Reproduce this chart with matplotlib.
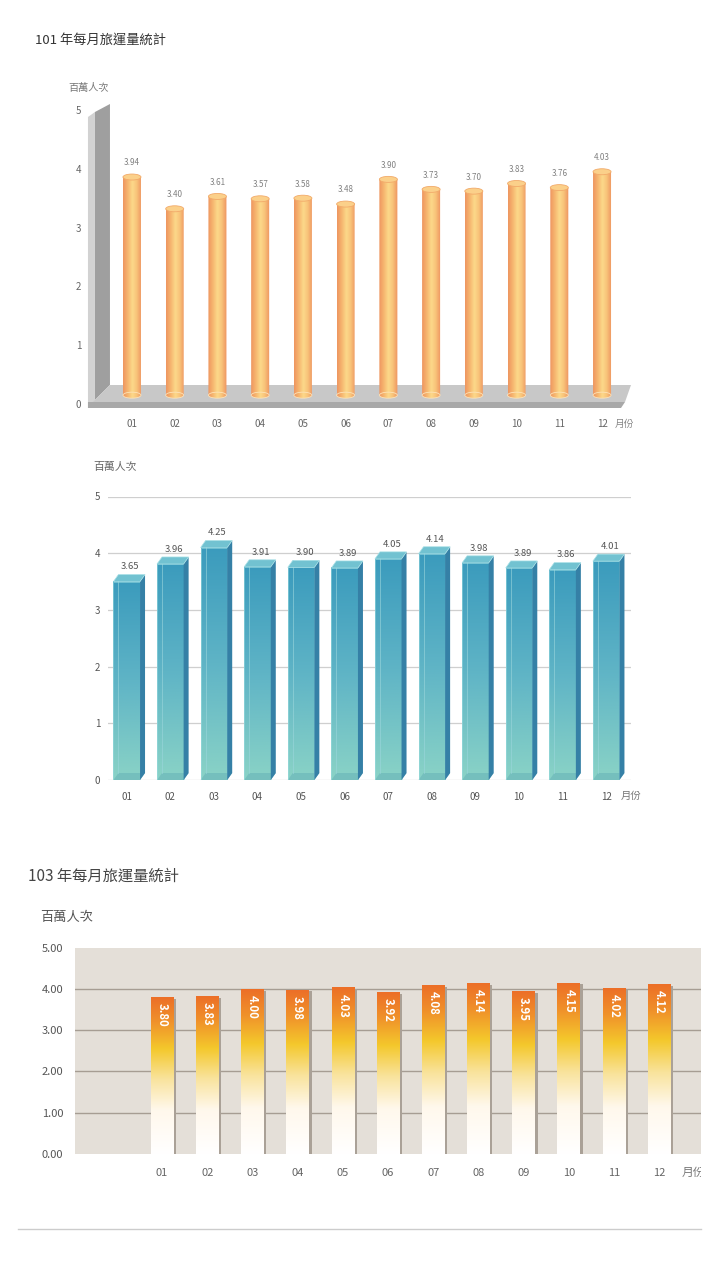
"""Monthly passenger volume charts for years 101, 102, 103 (three styles stacked)."""
import numpy as np
import matplotlib
matplotlib.use("Agg")
import matplotlib.pyplot as plt
from matplotlib.patches import Polygon, Rectangle, Ellipse
from matplotlib.colors import LinearSegmentedColormap
from matplotlib.lines import Line2D
from matplotlib.transforms import Bbox, TransformedBbox

plt.rcParams["font.family"] = ["Noto Sans CJK TC", "DejaVu Sans"]

W, H = 719, 1280

months = ["01", "02", "03", "04", "05", "06", "07", "08", "09", "10", "11", "12"]
yticks = [0, 1, 2, 3, 4, 5]
y101 = [3.94, 3.40, 3.61, 3.57, 3.58, 3.48, 3.90, 3.73, 3.70, 3.83, 3.76, 4.03]
y102 = [3.65, 3.96, 4.25, 3.91, 3.90, 3.89, 4.05, 4.14, 3.98, 3.89, 3.86, 4.01]
y103 = [3.80, 3.83, 4.00, 3.98, 4.03, 3.92, 4.08, 4.14, 3.95, 4.15, 4.02, 4.12]
title101 = "101 年每月旅運量統計"
title103 = "103 年每月旅運量統計"
unit_y = "百萬人次"
unit_x = "月份"

cyl_cmap = LinearSegmentedColormap.from_list(
    "cyl", [(0, "#ee9460"), (0.25, "#f6b56f"), (0.5, "#fcd98a"), (0.72, "#f8c47a"), (1, "#ee925f")])
box_cmap = LinearSegmentedColormap.from_list("box", ["#3b9bbd", "#5fb4c6", "#8ad3c6"])
bar_cmap = LinearSegmentedColormap.from_list(
    "bar3", [(0, "#ec6f27"), (0.16, "#f0922a"), (0.33, "#f4c82c"), (0.52, "#f9e39c"),
             (0.72, "#fff8ec"), (1, "#ffffff")])

fig = plt.figure(figsize=(W / 100, H / 100), dpi=100, facecolor="white")


def px_axes(left, top, right, bottom):
    return fig.add_axes([left / W, 1 - bottom / H, (right - left) / W, (bottom - top) / H])


def gradient(ax, x0, x1, y0, y1, cmap, horizontal=False, z=3):
    g = np.linspace(0, 1, 256)
    arr = g[None, :] if horizontal else g[:, None]
    return ax.imshow(arr, cmap=cmap, extent=[x0, x1, y0, y1], origin="upper",
                     aspect="auto", interpolation="bicubic", zorder=z)


def ftext(x, y, s, **kw):
    return fig.text(x / W, 1 - y / H, s, **kw)


# ---------------- 101: cylinders on a grey floor ----------------
ax1 = px_axes(110.6, 110, 623.4, 404)
sx1, sy1, x01, y01 = 42.73, 58.8, 132, 404   # px per unit, px origin (frame only)


def p1(px, py):
    return ((px - x01) / sx1, (y01 - py) / sy1)


frame = [
    ([p1(95, 112), p1(110, 104), p1(110, 385), p1(95, 400)], "#9f9f9f"),   # wall inner face
    ([p1(88, 117), p1(95, 112), p1(95, 402), p1(88, 408)], "#d2d2d2"),     # wall edge
    ([p1(110, 385), p1(631, 385), p1(625, 402), p1(93, 402)], "#c8c8c8"),  # floor top
    ([p1(88, 402), p1(625, 402), p1(621, 408), p1(88, 408)], "#a8a8a8"),   # floor front
]
for pts, col in frame:
    ax1.add_patch(Polygon(pts, closed=True, fc=col, ec="none", zorder=1, clip_on=False))

r1, e1, base1 = 9 / sx1, 3 / sy1, 0.15
for i, v in enumerate(y101):
    top = v - 0.08
    th = np.linspace(np.pi, 2 * np.pi, 40)
    outline = ([(i - r1, top)] + list(zip(i + r1 * np.cos(th), base1 + e1 * np.sin(th)))
               + [(i + r1, top)])
    clip = Polygon(outline, closed=True, transform=ax1.transData)
    im = gradient(ax1, i - r1, i + r1, base1 - e1, top, cyl_cmap, horizontal=True)
    im.set_clip_path(clip)
    ax1.add_patch(Ellipse((i, base1), 2 * r1, 2 * e1, fc="none", ec="#fde3b8", lw=0.6, zorder=4))
    ax1.add_patch(Ellipse((i, top), 2 * r1, 2 * e1, fc="#fbd08a", ec="#f2aa6a", lw=0.6, zorder=5))
    ax1.text(i, v + 0.16, f"{v:.2f}", ha="center", va="center", fontsize=5.8, color="#808080")

ax1.set_xlim(-0.5, 11.5)
ax1.set_ylim(0, 5)
ax1.set_frame_on(False)
ax1.set_yticks(yticks)
ax1.set_xticks(range(12), months)
ax1.tick_params(axis="y", length=0, pad=21, labelsize=7, labelcolor="#666666")
ax1.tick_params(axis="x", length=0, pad=11, labelsize=7, labelcolor="#666666")

ftext(35, 40, title101, fontsize=9.5, color="#333333", ha="left", va="center")
ftext(89, 88, unit_y, fontsize=7.3, color="#777777", ha="center", va="center")
ftext(624, 424, unit_x, fontsize=7, color="#888888", ha="center", va="center")

# ---------------- 102: 3D teal boxes ----------------
ax2 = px_axes(108, 496.5, 631, 780)
w2, ddx, ddy = 0.61, 5 / 43.57, 7 / 56.7
for g in yticks:
    ax2.axhline(g, color="#cfcfcf", lw=0.9, zorder=0)
for i, v in enumerate(y102):
    top = v - 0.15
    xl, xr = i - w2 / 2, i + w2 / 2
    gradient(ax2, xl, xr, 0, top, box_cmap)
    ax2.add_patch(Polygon([(xl, 0), (xr, 0), (xr + ddx, ddy), (xl + ddx, ddy)],
                          fc="#6db8ba", ec="none", alpha=0.7, zorder=4))
    ax2.plot([xl + ddx, xl + ddx], [ddy, top + ddy], color="#9bd6dc", lw=0.6, alpha=0.7, zorder=4)
    ax2.add_patch(Rectangle((xl, 0), w2, top, fc="none", ec="#9adbe0", lw=0.5, alpha=0.8, zorder=4))
    ax2.add_patch(Polygon([(xr, 0), (xr + ddx, ddy), (xr + ddx, top + ddy), (xr, top)],
                          fc="#3580a6", ec="none", zorder=4))
    ax2.add_patch(Polygon([(xl, top), (xr, top), (xr + ddx, top + ddy), (xl + ddx, top + ddy)],
                          fc="#72c2d1", ec="#a8e0e6", lw=0.5, zorder=4))
    ax2.text(i + 0.08, v + 0.11, f"{v:.2f}", ha="center", va="center", fontsize=6.8, color="#555555")

ax2.set_xlim(-0.43, 11.57)
ax2.set_ylim(0, 5)
ax2.set_frame_on(False)
ax2.set_yticks(yticks)
ax2.set_xticks(range(12), months)
ax2.tick_params(axis="y", length=0, pad=5.5, labelsize=7, labelcolor="#555555")
ax2.tick_params(axis="x", length=0, pad=9, labelsize=7, labelcolor="#555555")

ftext(115, 467, unit_y, fontsize=7.8, color="#666666", ha="center", va="center")
ftext(631, 796, unit_x, fontsize=7.5, color="#777777", ha="center", va="center")

# ---------------- 103: flat gradient bars on beige ----------------
ax3 = px_axes(75, 947.8, 701, 1153.8)
ax3.set_facecolor("#e4dfd8")
for g in yticks[1:-1]:
    ax3.axhline(g, color="#a69d93", lw=1.0, zorder=1)
w3 = 0.5
for i, v in enumerate(y103):
    ax3.add_patch(Rectangle((i + w3 / 2, 0), 0.06, v - 0.04, fc="#aaa197", ec="none", zorder=2))
    gradient(ax3, i - w3 / 2, i + w3 / 2, 0, v, bar_cmap)
    ax3.text(i, v - 0.14, f"{v:.2f}", rotation=270, ha="center", va="top",
             fontsize=8.2, fontweight="bold", color="white", zorder=5)

ax3.set_xlim(-1.925, 11.925)
ax3.set_ylim(0, 5)
for s in ax3.spines.values():
    s.set_visible(False)
ax3.set_yticks(yticks, [f"{t:.2f}" for t in yticks])
ax3.set_xticks(range(12), months)
ax3.tick_params(axis="y", length=0, pad=8.5, labelsize=8, labelcolor="#555555")
ax3.tick_params(axis="x", length=0, pad=10, labelsize=8, labelcolor="#666666")

ftext(28, 876, title103, fontsize=11, color="#444444", ha="left", va="center")
ftext(66.5, 917, unit_y, fontsize=9.5, color="#555555", ha="center", va="center")
t = ftext(682, 1172, unit_x, fontsize=8.5, color="#777777", ha="left", va="center")
t.set_clip_box(TransformedBbox(Bbox([[0, 0], [701 / W, 1]]), fig.transFigure))
t.set_clip_on(True)

fig.add_artist(Line2D([18 / W, 701 / W], [1 - 1228.5 / H] * 2, color="#cccccc", lw=1))

fig.savefig("out.png", dpi=100, facecolor="white")
